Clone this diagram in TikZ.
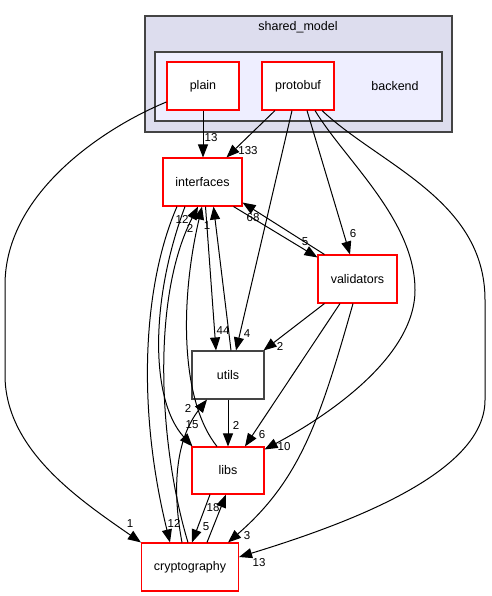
\documentclass[tikz,border=0pt]{standalone}
\usepackage{fontspec}
\setmainfont{Liberation Sans}
\usetikzlibrary{arrows.meta,calc}

\definecolor{outerfill}{HTML}{DDDDEE}
\definecolor{innerfill}{HTML}{EEEEFF}
\definecolor{clusterline}{HTML}{444444}
\definecolor{dirline}{HTML}{FF0000}

\begin{document}
\begin{tikzpicture}[x=1pt,y=-1pt,
    dir/.style={draw=dirline,fill=white,line width=1.1pt,minimum width=72pt,
      minimum height=48pt,inner sep=0pt,font=\fontsize{12.5}{15}\selectfont},
    dep/.style={line width=1pt,-{Triangle[length=13pt,width=10pt]}},
    lbl/.style={inner sep=0pt,font=\fontsize{11.5}{13}\selectfont}]
      \useasboundingbox (0,0) rectangle (491,596) ;
      % clusters
      \draw[clusterline,fill=outerfill,line width=1.4pt] (145,16) rectangle (452,132) ;
      \node[font=\fontsize{12.5}{15}\selectfont] (shared) at (298,27) {shared\_model} ;
      \draw[clusterline,fill=innerfill,line width=1.4pt] (155,52) rectangle (442,121) ;
      \node[font=\fontsize{12.5}{15}\selectfont] (backend) at (395,86) {backend} ;
      % directories
      \node[dir] (plain) at (203,86) {plain} ;
      \node[dir] (protobuf) at (298,86) {protobuf} ;
      \node[dir,minimum width=79pt] (interfaces) at (202.5,182) {interfaces} ;
      \node[dir,minimum width=79pt] (validators) at (357.5,279) {validators} ;
      \node[dir,draw=clusterline] (utils) at (228,375) {utils} ;
      \node[dir,minimum height=47pt] (libs) at (228,470.5) {libs} ;
      \node[dir,minimum width=97pt] (cryptography) at (190,567) {cryptography} ;
      % from backend
      \draw[dep] (plain.south) -- (plain.south |- interfaces.north)
        node[lbl] at (211,138) {13} ;
      \draw[dep] ($(plain.west)+(0,16)$) .. controls (110,125) and (5,190) .. (5,285)
        -- (5,375) .. controls (5,450) and (80,500) .. (cryptography.north west)
        node[lbl] at (130,524) {1} ;
      \draw[dep] ($(protobuf.south)+(-23,0)$) -- ($(interfaces.north)+(24,0)$)
        node[lbl] at (248,151) {133} ;
      \draw[dep] ($(protobuf.south)+(-6,0)$) -- ($(utils.north)+(8,0)$)
        node[lbl] at (247,334) {4} ;
      \draw[dep] ($(protobuf.south)+(9,0)$) -- ($(validators.north)+(-7.5,0)$)
        node[lbl] at (353,234) {6} ;
      \draw[dep] ($(protobuf.south)+(17,0)$) .. controls (345,160) and (415,220) .. (415,290)
        .. controls (415,360) and (320,420) .. ($(libs.north east)+(0,3)$)
        node[lbl] at (284,447) {10} ;
      \draw[dep] ($(protobuf.south)+(24,0)$) .. controls (380,165) and (485,200) .. (485,300)
        -- (485,400) .. controls (485,470) and (360,520) .. ($(cryptography.east)+(0,-10)$)
        node[lbl] at (259,563) {13} ;
      % interfaces / validators
      \draw[dep] ($(interfaces.south east)+(-9,0)$) -- ($(validators.north west)+(0,3)$)
        node[lbl] at (305,242) {5} ;
      \draw[dep] ($(validators.north west)+(7,0)$) -- ($(interfaces.south east)+(0,-4)$)
        node[lbl] at (253,218) {68} ;
      \draw[dep] ($(validators.south west)+(7,0)$) -- ($(utils.north east)+(-1,0)$)
        node[lbl] at (280,346) {2} ;
      \draw[dep] ($(validators.south)+(-17.5,0)$) -- ($(libs.north)+(17,0)$)
        node[lbl] at (262,435) {6} ;
      \draw[dep] ($(validators.south)+(-4.5,0)$) .. controls (320,420) and (300,480) .. ($(cryptography.north)+(38,0)$)
        node[lbl] at (247,536) {3} ;
      % interfaces / utils
      \draw[dep] ($(interfaces.south)+(3,0)$) -- ($(utils.north)+(-12,0)$)
        node[lbl] at (223,331) {44} ;
      \draw[dep] ($(utils.north)+(3,0)$) -- ($(interfaces.south)+(11,0)$)
        node[lbl] at (207,226) {1} ;
      \draw[dep] (utils.south) -- (libs.north)
        node[lbl] at (236,425) {2} ;
      % left bundle
      \draw[dep] ($(interfaces.south)+(-25.5,0)$) .. controls (145,280) and (135,400) .. ($(cryptography.north)+(-20,0)$)
        node[lbl] at (174,523) {12} ;
      \draw[dep] ($(interfaces.south)+(-17.5,0)$) .. controls (150,300) and (150,400) .. ($(libs.north west)+(1,0)$)
        node[lbl] at (192,425) {15} ;
      \draw[dep] ($(cryptography.north)+(-2,0)$) .. controls (160,450) and (150,300) .. ($(interfaces.south)+(-4.5,0)$)
        node[lbl] at (190,228) {2} ;
      \draw[dep] ($(libs.north)+(-11,0)$) .. controls (180,400) and (180,300) .. ($(interfaces.south)+(-0.5,0)$)
        node[lbl] at (182,219) {12} ;
      \draw[dep] ($(cryptography.north)+(-8,0)$) .. controls (172,490) and (175,440) .. ($(utils.south)+(-21,0)$)
        node[lbl] at (188,408) {2} ;
      % libs / cryptography
      \draw[dep] ($(libs.south)+(-18,0)$) -- ($(cryptography.north)+(2,0)$)
        node[lbl] at (206,527) {5} ;
      \draw[dep] ($(cryptography.north)+(17,0)$) -- ($(libs.south)+(-2,0)$)
        node[lbl] at (213,508) {18} ;
    \end{tikzpicture}
\end{document}
